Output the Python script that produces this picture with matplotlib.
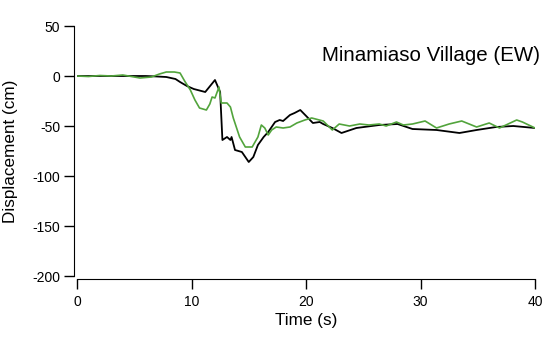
import matplotlib.pyplot as plt

# black trace (time in s, displacement in cm)
black_t = [0, 3, 6, 7, 7.8, 8.6, 9.0, 9.6, 10.2, 11.2, 12.05,
           12.5, 12.7, 13.1, 13.4, 13.5, 13.8, 14.4, 15.0, 15.4, 15.8,
           16.3, 16.7, 17.3, 17.7, 18.0, 18.3, 18.6, 19.0, 19.5, 20.1,
           20.6, 21.2, 21.5, 22.3, 23.1, 24.4, 26.4, 28,
           29.3, 31.4, 33.4, 34.9, 36.6, 38.1, 40]
black_v = [0, 0, 0, -0.5, -1, -3, -6, -10, -13, -16, -4,
           -16, -64, -61, -64, -61, -74, -76, -86, -81, -69,
           -61, -56, -46, -44, -45, -42, -39, -37, -34, -41,
           -47, -46, -48, -52, -57, -52, -49, -48,
           -53, -54, -57, -54, -51, -50, -52]

# green trace
green_t = [0, 1, 2, 3, 4, 5, 5.5, 6.5,
           7.2, 7.8, 8.5, 9.0, 9.4, 9.9, 10.3, 10.7, 11.3, 11.6,
           11.8, 12.05, 12.4, 12.6, 13.1, 13.4, 13.65, 14.2, 14.7, 15.3,
           15.8, 16.1, 16.4, 16.7, 17.0, 17.4, 18.0, 18.6, 19.2, 19.9,
           20.5, 21.5, 22.3, 22.9, 23.8, 24.7, 25.5, 26.4, 27,
           27.9, 28.5, 29.3, 30.4, 31.4, 32.5, 33.6, 34.9, 36, 36.9,
           38.4, 38.9, 40]
green_v = [0, -0.5, 0.5, 0, 1, -1, -2, -1,
           2, 4, 4, 3, -5, -14, -24, -32, -34, -28,
           -21, -22, -11, -27, -27, -31, -42, -61, -71, -71,
           -61, -49, -52, -59, -54, -51, -52, -51, -47, -44,
           -42, -45, -54, -48, -50, -48, -49, -48, -50,
           -46, -49, -48, -45, -52, -48, -45, -51, -47, -52,
           -44, -46, -52]

plt.rcParams['font.family'] = ['Liberation Sans', 'DejaVu Sans']
plt.rcParams['axes.unicode_minus'] = False

fig = plt.figure(figsize=(5.45, 3.5), dpi=100)
ax = fig.add_axes([77 / 545, 1 - 276 / 350, (535 - 77) / 545, 250 / 350])

ax.plot(black_t, black_v, color='black', linewidth=1.3)
ax.plot(green_t, green_v, color='#52a43c', linewidth=1.2)

ax.set_xlim(0, 40)
ax.set_ylim(-200, 50)
ax.set_xticks([0, 10, 20, 30, 40])
ax.set_yticks([50, 0, -50, -100, -150, -200])

# only left and bottom axes, pushed out a little
ax.spines['top'].set_visible(False)
ax.spines['right'].set_visible(False)
ax.spines['left'].set_position(('outward', 2))
ax.spines['bottom'].set_position(('outward', 2))
ax.tick_params(direction='out', length=7, width=1, labelsize=10)
ax.tick_params(axis='y', pad=3)
ax.tick_params(axis='x', pad=4.5)

ax.set_xlabel('Time (s)', fontsize=12.3, va='center')
ax.set_ylabel('Displacement (cm)', fontsize=12.3, va='center')
ax.xaxis.set_label_coords(0.5, -0.176)
ax.yaxis.set_label_coords(-0.146, 0.5)
ax.text(1.011, 0.882, 'Minamiaso Village (EW)', transform=ax.transAxes,
        ha='right', va='center', fontsize=14.8)

plt.savefig('out.png', dpi=100)
